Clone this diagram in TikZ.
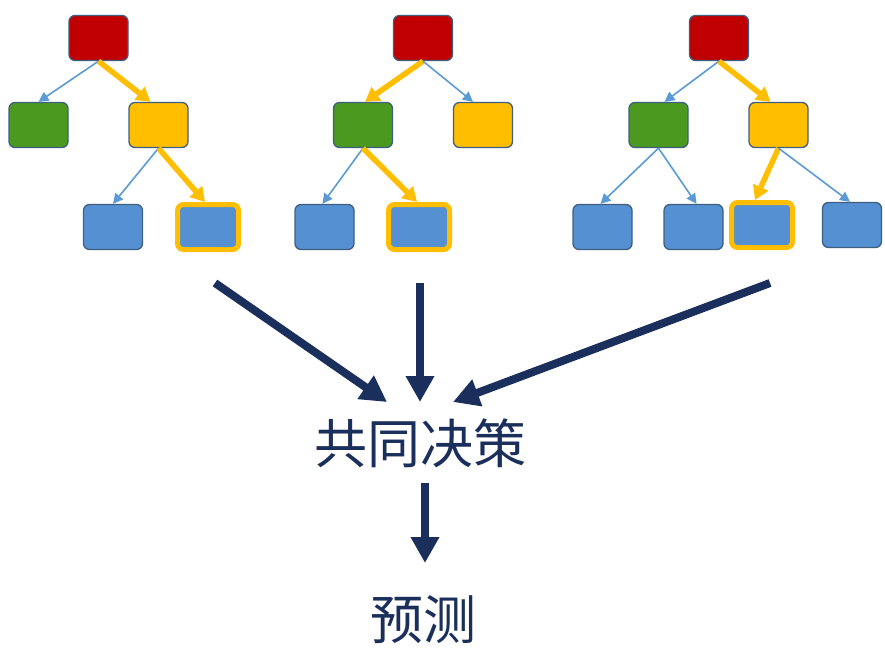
\documentclass[tikz,border=0pt]{standalone}
\usepackage{fontspec}
\newfontfamily\cjk{Noto Sans CJK SC}
\usetikzlibrary{arrows.meta,calc}
\definecolor{cred}{HTML}{C00000}
\definecolor{cgreen}{HTML}{4B9A1F}
\definecolor{cyellow}{HTML}{FFBE00}
\definecolor{cblue}{HTML}{5590D2}
\definecolor{cborder}{HTML}{3F5F80}
\definecolor{cnavy}{HTML}{1B2F5C}
\definecolor{cthin}{HTML}{5B9BD5}
\tikzset{
  box/.style={draw=cborder, line width=1.3pt, rounded corners=6pt, minimum width=59pt, minimum height=45pt, inner sep=0pt},
  rbox/.style={box, fill=cred},
  gbox/.style={box, fill=cgreen},
  ybox/.style={box, fill=cyellow},
  bbox/.style={box, fill=cblue},
  hbox/.style={box, fill=cblue, draw=cyellow, line width=5pt, minimum width=61pt, minimum height=45pt},
  thin/.style={draw=cthin, line width=1.6pt, -{Triangle[length=10pt,width=10pt]}},
  thick/.style={draw=cyellow, line width=5.5pt, -{Triangle[length=14pt,width=16pt]}},
  big/.style={draw=cnavy, line width=8pt, -{Triangle[length=26pt,width=27pt]}},
  lbl/.style={font=\cjk\fontsize{53pt}{60pt}\selectfont, text=cnavy, inner sep=0pt}
}
\begin{document}
\begin{tikzpicture}[x=1pt,y=-1pt]
\useasboundingbox[fill=white] (0,0) rectangle (885,661);
% tree 1
\node[rbox] (r1) at (98.5,38) {};
\node[gbox] (g1) at (38.5,125) {};
\node[ybox] (y1) at (158.5,125) {};
\node[bbox] (b1a) at (113,227) {};
\node[hbox] (b1b) at (208,227) {};
% tree 2
\node[rbox] (r2) at (423,38) {};
\node[gbox] (g2) at (363,125) {};
\node[ybox] (y2) at (483,125) {};
\node[bbox] (b2a) at (324.5,227) {};
\node[hbox] (b2b) at (419,227) {};
% tree 3
\node[rbox] (r3) at (719,38) {};
\node[gbox] (g3) at (658.5,125) {};
\node[ybox] (y3) at (778.5,125) {};
\node[bbox] (b3a) at (602.5,227) {};
\node[bbox] (b3b) at (693.5,227) {};
\node[hbox] (b3c) at (762,225) {};
\node[bbox] (b3d) at (852,225) {};
% tree 1 edges
\draw[thin] (r1.south) -- (g1.north);
\draw[thick] (r1.south) -- ([xshift=-8pt]y1.north);
\draw[thin] (y1.south) -- (b1a.north);
\draw[thick] (y1.south) -- ([xshift=-3pt]b1b.north);
% tree 2 edges
\draw[thick] (r2.south) -- ([xshift=2pt]g2.north);
\draw[thin] (r2.south) -- ([xshift=-10pt]y2.north);
\draw[thin] (g2.south) -- ([xshift=-2pt]b2a.north);
\draw[thick] (g2.south) -- ([xshift=-2pt]b2b.north);
% tree 3 edges
\draw[thin] (r3.south) -- ([xshift=6pt]g3.north);
\draw[thick] (r3.south) -- ([xshift=-8pt]y3.north);
\draw[thin] (g3.south) -- ([xshift=-2pt]b3a.north);
\draw[thin] (g3.south) -- ([xshift=3pt]b3b.north);
\draw[thick] (y3.south) -- ([xshift=-7pt]b3c.north);
\draw[thin] (y3.south) -- ([xshift=-2pt]b3d.north);
% decision
\node[lbl] (dec) at (420,443) {共同决策};
\node[lbl] (pred) at (423,620) {预测};
\coordinate (s1) at (215,283);
\coordinate (s2) at (420,283);
\coordinate (s3) at (770,283);
\coordinate (e1) at (387,402);
\coordinate (e2) at (420,402);
\coordinate (e3) at (453,402);
\draw[big] (s1) -- (e1);
\draw[big] (s2) -- (e2);
\draw[big] (s3) -- (e3);
\draw[big] (dec.south -| 425,0) ++(0,15) -- (425,563);
\end{tikzpicture}
\end{document}
